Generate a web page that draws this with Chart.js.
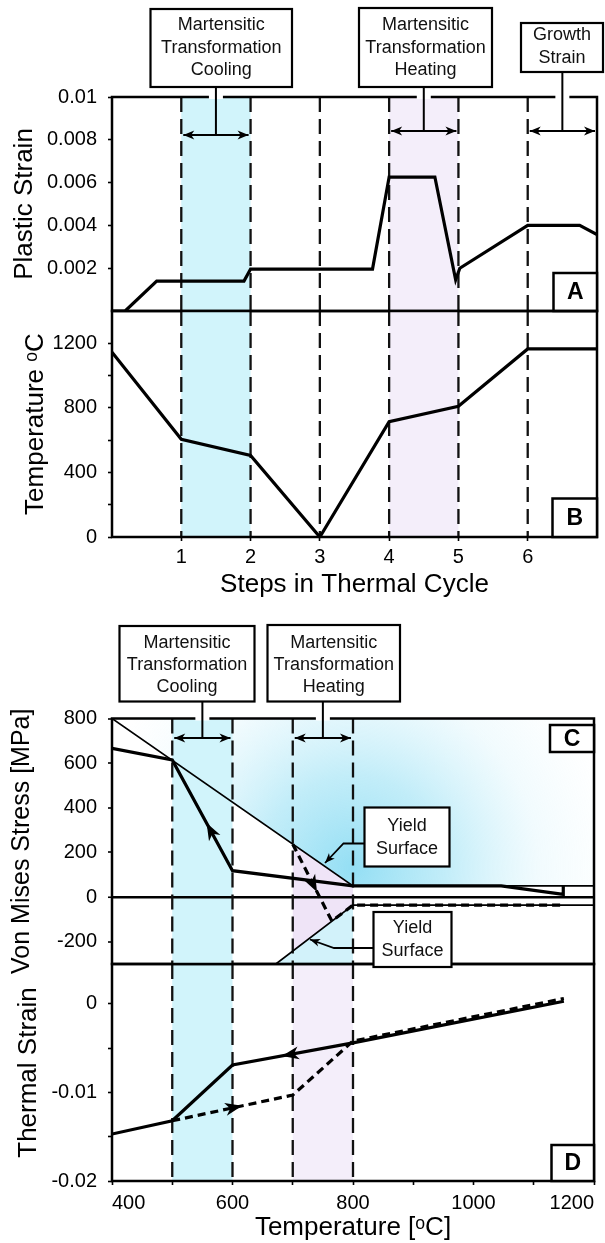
<!DOCTYPE html>
<html>
<head>
<meta charset="utf-8">
<script src="https://cdn.jsdelivr.net/npm/chart.js@4.4.1/dist/chart.umd.min.js"></script>
<style>
  html, body { margin: 0; padding: 0; background: #ffffff; }
  body { width: 605px; height: 1243px; position: relative; overflow: hidden; }
  canvas { position: absolute; left: 0; }
</style>
</head>
<body>
<canvas id="cA" width="605" height="330" style="top:0px;z-index:1"></canvas>
<canvas id="cB" width="605" height="300" style="top:300px;z-index:2"></canvas>
<canvas id="cD" width="605" height="293" style="top:950px;z-index:3"></canvas>
<canvas id="cC" width="605" height="380" style="top:600px;z-index:4"></canvas>
<script>
// ---------------- DATA ----------------
// Panel A: plastic strain vs. step in thermal cycle
const stepsA = [0, 0.19, 0.645, 1.905, 2.0, 3.76, 4.0, 4.66, 4.96, 5.02, 6.0, 6.75, 7.0];
const plasticStrain = [0, 0, 0.0014, 0.0014, 0.00196, 0.00196, 0.00626, 0.00626, 0.00146, 0.002, 0.004, 0.004, 0.00357];
// Panel B: temperature vs. step
const stepsB = [0, 1, 2, 3, 4, 5, 6, 7];
const cycleTemperature = [1145, 605, 505, 0, 715, 810, 1165, 1165];
const stepTicks = [1, 2, 3, 4, 5, 6];
const stepTickLabels = ['1', '2', '3', '4', '5', '6'];
const strainTicks = [0.002, 0.004, 0.006, 0.008, 0.01];
const strainTickLabels = ['0.002', '0.004', '0.006', '0.008', '0.01'];
const tempTicks = [0, 200, 400, 600, 800, 1000, 1200];
const tempTickLabels = ['0', '', '400', '', '800', '', '1200'];
const stepMarkers = [1, 2, 3, 4, 5, 6];

// Panel C: von Mises stress vs. temperature
const yieldUpperT = [400, 800, 1200];
const yieldUpperS = [800, 50, 50];
const yieldLowerT = [672, 800, 1200];
const yieldLowerS = [-300, -36, -36];
const coolPathT = [400, 500, 600, 800, 1046, 1149, 1149];
const coolPathS = [666, 614, 118, 50, 50, 12, 50];
const heatPathT = [700, 765, 800, 1149];
const heatPathS = [237, -108, -36, -36];
const heatZoneT = [700, 800, 800, 700];
const heatZoneS = [237, 50, -36, -242];
const belowYieldT = [672, 800, 800];
const belowYieldS = [-300, -36, -300];
const stressTicks = [-200, 0, 200, 400, 600, 800];
const stressTickLabels = ['-200', '0', '200', '400', '600', '800'];

// Panel D: thermal strain vs. temperature
const coolStrainT = [400, 500, 600, 800, 1150];
const coolStrainV = [-0.0147, -0.0132, -0.0069, -0.0044, 0.0003];
const heatStrainT = [500, 700, 800, 1150];
const heatStrainV = [-0.0132, -0.0103, -0.0042, 0.0006];
const thermTicks = [-0.02, -0.015, -0.01, -0.005, 0];
const thermTickLabels = ['-0.02', '', '-0.01', '', '0'];
const tempAxisTicks = [400, 500, 600, 700, 800, 900, 1000, 1100, 1200];
const tempAxisLabels = ['400', '', '600', '', '800', '', '1000', '', '1200'];
const tempMarkers = [500, 600, 700, 800];

// ---------------- STYLE ----------------
const FONT = "'Liberation Sans', Arial, Helvetica, sans-serif";
Chart.defaults.font.family = FONT;
Chart.defaults.color = '#000';
Chart.defaults.animation = false;
const CYAN = 'rgb(209,244,251)';
const LAV = 'rgb(244,238,250)';

const pts = (xs, ys) => xs.map((x, i) => ({ x: x, y: ys[i] }));

function arrowHead(ctx, x, y, ang, len, half) {
  ctx.save();
  ctx.translate(x, y);
  ctx.rotate(ang);
  ctx.beginPath();
  ctx.moveTo(0, 0);
  ctx.lineTo(-len, -half);
  ctx.lineTo(-len * 0.72, 0);
  ctx.lineTo(-len, half);
  ctx.closePath();
  ctx.fillStyle = '#000';
  ctx.fill();
  ctx.restore();
}

const decor = {
  id: 'decor',
  beforeDraw(chart, args, o) {
    const { ctx, chartArea: a, scales: { x, y } } = chart;
    ctx.save();
    ctx.beginPath();
    ctx.rect(a.left, a.top, a.width, a.height);
    ctx.clip();
    (o.bands || []).forEach(b => {
      const x0 = x.getPixelForValue(b.from), x1 = x.getPixelForValue(b.to);
      ctx.fillStyle = b.color;
      ctx.fillRect(x0, a.top, x1 - x0, a.height);
    });
    (o.polys || []).forEach(p => {
      ctx.beginPath();
      p.xs.forEach((xv, i) => {
        const px = x.getPixelForValue(xv), py = y.getPixelForValue(p.ys[i]);
        if (i) ctx.lineTo(px, py); else ctx.moveTo(px, py);
      });
      ctx.closePath();
      ctx.fillStyle = p.color;
      ctx.fill();
    });
    ctx.restore();
  },
  beforeDatasetsDraw(chart, args, o) {
    const { ctx, chartArea: a, scales: { x } } = chart;
    ctx.save();
    ctx.strokeStyle = '#111';
    ctx.lineWidth = 2.3;
    ctx.setLineDash([15, 7]);
    (o.markers || []).forEach(v => {
      const px = x.getPixelForValue(v);
      ctx.beginPath();
      ctx.moveTo(px, a.top);
      ctx.lineTo(px, a.bottom);
      ctx.stroke();
    });
    ctx.restore();
  },
  afterDatasetsDraw(chart, args, o) {
    const { ctx, scales: { x, y } } = chart;
    (o.pathArrows || []).forEach(p => {
      const x0 = x.getPixelForValue(p.from[0]), y0 = y.getPixelForValue(p.from[1]);
      const x1 = x.getPixelForValue(p.to[0]), y1 = y.getPixelForValue(p.to[1]);
      const tx = x0 + (x1 - x0) * p.t, ty = y0 + (y1 - y0) * p.t;
      arrowHead(ctx, tx, ty, Math.atan2(y1 - y0, x1 - x0), 17, 6.5);
    });
  },
  afterDraw(chart, args, o) {
    const { ctx, chartArea: a, scales: { x } } = chart;
    ctx.save();
    // frame
    ctx.strokeStyle = '#000';
    ctx.lineWidth = 2.5;
    ctx.setLineDash([]);
    ctx.strokeRect(a.left, a.top, a.width, a.height);
    // annotation boxes with connectors and span arrows
    (o.notes || []).forEach(n => {
      const [bx0, by0, bx1, by1] = n.box;
      if (n.from !== undefined) {
        const xa = x.getPixelForValue(n.from), xb = x.getPixelForValue(n.to);
        const cx = (xa + xb) / 2;
        ctx.strokeStyle = '#fff';
        ctx.lineWidth = 4;
        ctx.beginPath(); ctx.moveTo(cx - 7, a.top); ctx.lineTo(cx + 7, a.top); ctx.stroke();
        ctx.strokeStyle = '#000';
        ctx.lineWidth = 2;
        ctx.beginPath(); ctx.moveTo(cx, by1); ctx.lineTo(cx, n.arrowY); ctx.stroke();
        ctx.beginPath(); ctx.moveTo(xa + 2, n.arrowY); ctx.lineTo(xb - 2, n.arrowY); ctx.stroke();
        arrowHead(ctx, xa + 2, n.arrowY, Math.PI, 11, 4.5);
        arrowHead(ctx, xb - 2, n.arrowY, 0, 11, 4.5);
      }
      if (n.pointer) {
        ctx.strokeStyle = '#000';
        ctx.lineWidth = 1.8;
        ctx.beginPath();
        n.pointer.forEach((p, i) => { if (i) ctx.lineTo(p[0], p[1]); else ctx.moveTo(p[0], p[1]); });
        ctx.stroke();
        const q = n.pointer[n.pointer.length - 1], r = n.pointer[n.pointer.length - 2];
        arrowHead(ctx, q[0], q[1], Math.atan2(q[1] - r[1], q[0] - r[0]), 10, 4);
      }
      ctx.fillStyle = '#fff';
      ctx.fillRect(bx0, by0, bx1 - bx0, by1 - by0);
      ctx.strokeStyle = '#000';
      ctx.lineWidth = 2.2;
      ctx.strokeRect(bx0, by0, bx1 - bx0, by1 - by0);
      ctx.fillStyle = '#111';
      ctx.font = '18px ' + FONT;
      ctx.textAlign = 'center';
      ctx.textBaseline = 'middle';
      n.lines.forEach((t, i) => ctx.fillText(t, (bx0 + bx1) / 2, n.lineY[i]));
    });
    // panel letter
    if (o.letter) {
      const [lx0, ly0, lx1, ly1] = o.letter.box;
      ctx.fillStyle = '#fff';
      ctx.fillRect(lx0, ly0, lx1 - lx0, ly1 - ly0);
      ctx.strokeStyle = '#000';
      ctx.lineWidth = 2.5;
      ctx.strokeRect(lx0, ly0, lx1 - lx0, ly1 - ly0);
      ctx.fillStyle = '#000';
      ctx.font = 'bold 23px ' + FONT;
      ctx.textAlign = 'center';
      ctx.textBaseline = 'middle';
      ctx.fillText(o.letter.text, (lx0 + lx1) / 2, (ly0 + ly1) / 2 + 1);
    }
    ctx.restore();
  }
};

function yAxis(min, max, tv, tl, title, tSize, tPad) {
  return {
    type: 'linear', position: 'left', min: min, max: max,
    afterBuildTicks: s => { s.ticks = tv.map(v => ({ value: v })); },
    afterFit: s => { s.width = 112; s.paddingTop = 0; s.paddingBottom = 0; },
    ticks: { callback: v => tl[tv.indexOf(v)], font: { size: 20 }, padding: 11, color: '#000', autoSkip: false },
    grid: { drawOnChartArea: false, drawTicks: true, tickLength: 4, tickColor: '#000', tickWidth: 1.6 },
    border: { display: false },
    title: { display: true, text: title, font: { size: tSize }, color: '#000', padding: { top: tPad, bottom: 0 } }
  };
}

function xAxis(min, max, tv, tl, title, h, pad, tPadBottom, align) {
  return {
    type: 'linear', position: 'bottom', min: min, max: max,
    afterBuildTicks: s => { s.ticks = tv.map(v => ({ value: v })); },
    afterFit: s => { s.height = h; s.paddingLeft = 0; s.paddingRight = 0; },
    ticks: { callback: v => tl[tv.indexOf(v)], font: { size: 20 }, padding: pad, color: '#000', autoSkip: false, maxRotation: 0, align: align },
    grid: { drawOnChartArea: false, drawTicks: true, tickLength: 4, tickColor: '#000', tickWidth: 1.6 },
    border: { display: false },
    title: { display: true, text: title, font: { size: 26 }, color: '#000', padding: { top: 0, bottom: tPadBottom } }
  };
}
const hiddenX = (min, max) => ({ type: 'linear', min: min, max: max, display: false });

const lineDs = (data, w, dash) => ({
  data: data, borderColor: '#000', borderWidth: w, borderDash: dash || [], pointRadius: 0,
  fill: false, tension: 0, borderJoinStyle: 'miter', borderCapStyle: 'butt'
});

const basePlugins = { legend: { display: false }, tooltip: { enabled: false } };

// ---------------- PANEL A ----------------
new Chart(document.getElementById('cA'), {
  type: 'line',
  data: { datasets: [lineDs(pts(stepsA, plasticStrain), 3.2)] },
  options: {
    responsive: false, events: [],
    layout: { padding: { left: 0, right: 8, top: 97, bottom: 19 } },
    scales: {
      x: hiddenX(0, 7),
      y: yAxis(0, 0.01, strainTicks, strainTickLabels, 'Plastic Strain', 26, 9)
    },
    plugins: Object.assign({}, basePlugins, {
      decor: {
        bands: [{ from: 1, to: 2, color: CYAN }, { from: 4, to: 5, color: LAV }],
        markers: stepMarkers,
        notes: [
          { box: [150.5, 9, 292, 87], lines: ['Martensitic', 'Transformation', 'Cooling'], lineY: [25, 48, 70], from: 1, to: 2, arrowY: 135 },
          { box: [359, 8, 492, 87], lines: ['Martensitic', 'Transformation', 'Heating'], lineY: [25, 48, 70], from: 4, to: 5, arrowY: 131 },
          { box: [521, 23, 603, 72], lines: ['Growth', 'Strain'], lineY: [35, 58], from: 6, to: 7, arrowY: 131 }
        ],
        letter: { text: 'A', box: [553.5, 273, 597, 311] }
      }
    })
  },
  plugins: [decor]
});

// ---------------- PANEL B ----------------
new Chart(document.getElementById('cB'), {
  type: 'line',
  data: { datasets: [lineDs(pts(stepsB, cycleTemperature), 3.2)] },
  options: {
    responsive: false, events: [],
    layout: { padding: { left: 0, right: 8, top: 11, bottom: 0 } },
    scales: {
      x: xAxis(0, 7, stepTicks, stepTickLabels, 'Steps in Thermal Cycle', 63, 4, 0, 'center'),
      y: yAxis(0, 1400, tempTicks, tempTickLabels, 'Temperature \u1D52C', 26, 20)
    },
    plugins: Object.assign({}, basePlugins, {
      decor: {
        bands: [{ from: 1, to: 2, color: CYAN }, { from: 4, to: 5, color: LAV }],
        markers: stepMarkers,
        letter: { text: 'B', box: [552.5, 198.5, 597, 237] }
      }
    })
  },
  plugins: [decor]
});

// ---------------- PANEL C ----------------
const glow = c => {
  const ch = c.chart, a = ch.chartArea;
  if (!a || !ch.scales.x) return 'rgba(0,0,0,0)';
  const cx = ch.scales.x.getPixelForValue(800), cy = ch.scales.y.getPixelForValue(130);
  const g = ch.ctx.createRadialGradient(cx, cy, 0, cx, cy, 265);
  g.addColorStop(0, 'rgba(90,205,238,0.65)');
  g.addColorStop(0.35, 'rgba(110,212,240,0.42)');
  g.addColorStop(0.7, 'rgba(150,225,246,0.13)');
  g.addColorStop(1, 'rgba(170,232,248,0.0)');
  return g;
};
const yieldUp = lineDs(pts(yieldUpperT, yieldUpperS), 1.7);
yieldUp.fill = 'end';
yieldUp.backgroundColor = glow;

new Chart(document.getElementById('cC'), {
  type: 'line',
  data: {
    datasets: [
      yieldUp,
      lineDs(pts(yieldLowerT, yieldLowerS), 1.7),
      lineDs(pts(coolPathT, coolPathS), 3.2),
      lineDs(pts(heatPathT, heatPathS), 3.2, [8, 5])
    ]
  },
  options: {
    responsive: false, events: [],
    layout: { padding: { left: 0, right: 11, top: 118.5, bottom: 16 } },
    scales: {
      x: hiddenX(400, 1200),
      y: Object.assign(yAxis(-300, 800, stressTicks, stressTickLabels, 'Von Mises Stress [MPa]', 25, 7), {
        grid: {
          drawOnChartArea: true, drawTicks: true, tickLength: 4, tickColor: '#000', tickWidth: 1.6,
          color: c => (c.tick && c.tick.value === 0) ? '#000' : 'rgba(0,0,0,0)',
          lineWidth: c => (c.tick && c.tick.value === 0) ? 2.5 : 0
        }
      })
    },
    plugins: Object.assign({}, basePlugins, {
      filler: { drawTime: 'beforeDraw' },
      decor: {
        bands: [{ from: 500, to: 600, color: CYAN }],
        polys: [
          { xs: heatZoneT, ys: heatZoneS, color: 'rgba(238,227,247,0.95)' },
          { xs: belowYieldT, ys: belowYieldS, color: 'rgba(165,229,246,0.5)' }
        ],
        markers: tempMarkers,
        pathArrows: [
          { from: [coolPathT[2], coolPathS[2]], to: [coolPathT[1], coolPathS[1]], t: 0.43 },
          { from: [heatPathT[0], heatPathS[0]], to: [heatPathT[1], heatPathS[1]], t: 0.62 }
        ],
        notes: [
          { box: [119.5, 26, 254.5, 101.5], lines: ['Martensitic', 'Transformation', 'Cooling'], lineY: [43.5, 65.5, 87.5], from: 500, to: 600, arrowY: 138 },
          { box: [267.5, 25, 400, 101.5], lines: ['Martensitic', 'Transformation', 'Heating'], lineY: [43.5, 65.5, 87.5], from: 700, to: 800, arrowY: 138 },
          { box: [364.5, 207.5, 449.5, 266.5], lines: ['Yield', 'Surface'], lineY: [226.5, 249.5], pointer: [[364.5, 243.5], [343.5, 243.5], [325, 263]] },
          { box: [373.5, 312, 451.5, 367], lines: ['Yield', 'Surface'], lineY: [328.5, 351.5], pointer: [[373.5, 348], [334, 348], [310, 339.5]] }
        ],
        letter: { text: 'C', box: [550, 125, 594, 152] }
      }
    })
  },
  plugins: [decor]
});

// ---------------- PANEL D ----------------
new Chart(document.getElementById('cD'), {
  type: 'line',
  data: {
    datasets: [
      lineDs(pts(coolStrainT, coolStrainV), 3.2),
      lineDs(pts(heatStrainT, heatStrainV), 3.2, [8, 5])
    ]
  },
  options: {
    responsive: false, events: [],
    layout: { padding: { left: 0, right: 11, top: 14, bottom: 0 } },
    scales: {
      x: xAxis(400, 1200, tempAxisTicks, tempAxisLabels, 'Temperature [\u1D52C]', 62, 6, 0, 'inner'),
      y: yAxis(-0.02, 0.0045, thermTicks, thermTickLabels, 'Thermal Strain', 26, 13)
    },
    plugins: Object.assign({}, basePlugins, {
      decor: {
        bands: [{ from: 500, to: 600, color: CYAN }, { from: 700, to: 800, color: LAV }],
        markers: tempMarkers,
        pathArrows: [
          { from: [coolStrainT[3], coolStrainV[3]], to: [coolStrainT[2], coolStrainV[2]], t: 0.59 },
          { from: [heatStrainT[0], heatStrainV[0]], to: [heatStrainT[1], heatStrainV[1]], t: 0.58 }
        ],
        letter: { text: 'D', box: [551.5, 195, 594, 231] }
      }
    })
  },
  plugins: [decor]
});
</script>
</body>
</html>
